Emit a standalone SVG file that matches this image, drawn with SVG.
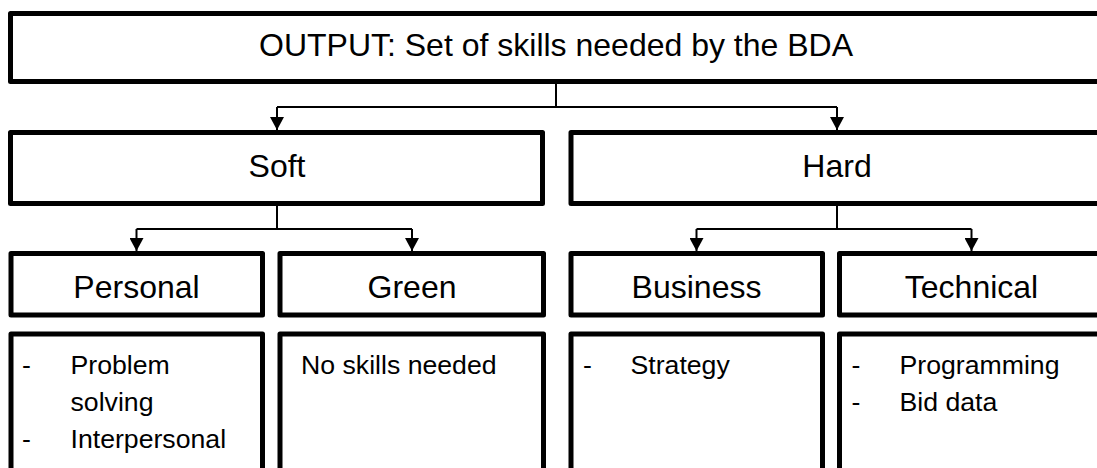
<svg xmlns="http://www.w3.org/2000/svg" width="1097" height="468" viewBox="0 0 1097 468">
<style>
.box{fill:#fff;stroke:#000;stroke-width:5;stroke-linejoin:round}
.t{font-family:"Liberation Sans",Arial,sans-serif;fill:#000}
.h{font-size:32px;text-anchor:middle}
.c{font-size:26.67px}
.ln{fill:none;stroke:#000;stroke-width:2}
</style>
<defs>
<marker id="arr" viewBox="0 0 13 14" refX="13" refY="7" markerWidth="13" markerHeight="14" markerUnits="userSpaceOnUse" orient="auto">
<path d="M0,0 L13,7 L0,14 Z" fill="#000"/>
</marker>
</defs>
<g id="connectors">
<path class="ln" d="M556,84 V107"/>
<path class="ln" d="M277,107 H837"/>
<path class="ln" d="M277,107 V130" marker-end="url(#arr)"/>
<path class="ln" d="M837,107 V130" marker-end="url(#arr)"/>
<path class="ln" d="M277,206 V229"/>
<path class="ln" d="M136.5,229 H412"/>
<path class="ln" d="M136.5,229 V251" marker-end="url(#arr)"/>
<path class="ln" d="M412,229 V251" marker-end="url(#arr)"/>
<path class="ln" d="M837,206 V229"/>
<path class="ln" d="M696.5,229 H971.5"/>
<path class="ln" d="M696.5,229 V251" marker-end="url(#arr)"/>
<path class="ln" d="M971.5,229 V251" marker-end="url(#arr)"/>
</g>
<g id="output">
<rect class="box" x="10.5" y="13.5" width="1091" height="68"/>
<text class="t h" x="556" y="56">OUTPUT: Set of skills needed by the BDA</text>
</g>
<g id="soft">
<rect class="box" x="10.5" y="132.5" width="532" height="71"/>
<text class="t h" x="277" y="177">Soft</text>
</g>
<g id="hard">
<rect class="box" x="571" y="132.5" width="532" height="71"/>
<text class="t h" x="837" y="177">Hard</text>
</g>
<g id="personal">
<rect class="box" x="11" y="253.5" width="251.5" height="61.5"/>
<text class="t h" x="136.5" y="298">Personal</text>
</g>
<g id="green">
<rect class="box" x="280" y="253.5" width="263.5" height="61.5"/>
<text class="t h" x="412" y="298">Green</text>
</g>
<g id="business">
<rect class="box" x="571" y="253.5" width="251.5" height="61.5"/>
<text class="t h" x="696.5" y="298">Business</text>
</g>
<g id="technical">
<rect class="box" x="839.5" y="253.5" width="264" height="61.5"/>
<text class="t h" x="971.5" y="298">Technical</text>
</g>
<g id="personal-skills">
<rect class="box" x="11" y="334" width="251.5" height="160"/>
<text class="t c" x="22" y="374">-</text>
<text class="t c" x="70.5" y="374">Problem</text>
<text class="t c" x="70.5" y="411">solving</text>
<text class="t c" x="22" y="448">-</text>
<text class="t c" x="70.5" y="448">Interpersonal</text>
</g>
<g id="green-skills">
<rect class="box" x="280" y="334" width="263.5" height="160"/>
<text class="t c" x="301" y="374">No skills needed</text>
</g>
<g id="business-skills">
<rect class="box" x="571" y="334" width="251.5" height="160"/>
<text class="t c" x="583" y="374">-</text>
<text class="t c" x="630.5" y="374">Strategy</text>
</g>
<g id="technical-skills">
<rect class="box" x="839.5" y="334" width="264" height="160"/>
<text class="t c" x="851.5" y="374">-</text>
<text class="t c" x="899.5" y="374">Programming</text>
<text class="t c" x="851.5" y="411">-</text>
<text class="t c" x="899.5" y="411">Bid data</text>
</g>
</svg>
